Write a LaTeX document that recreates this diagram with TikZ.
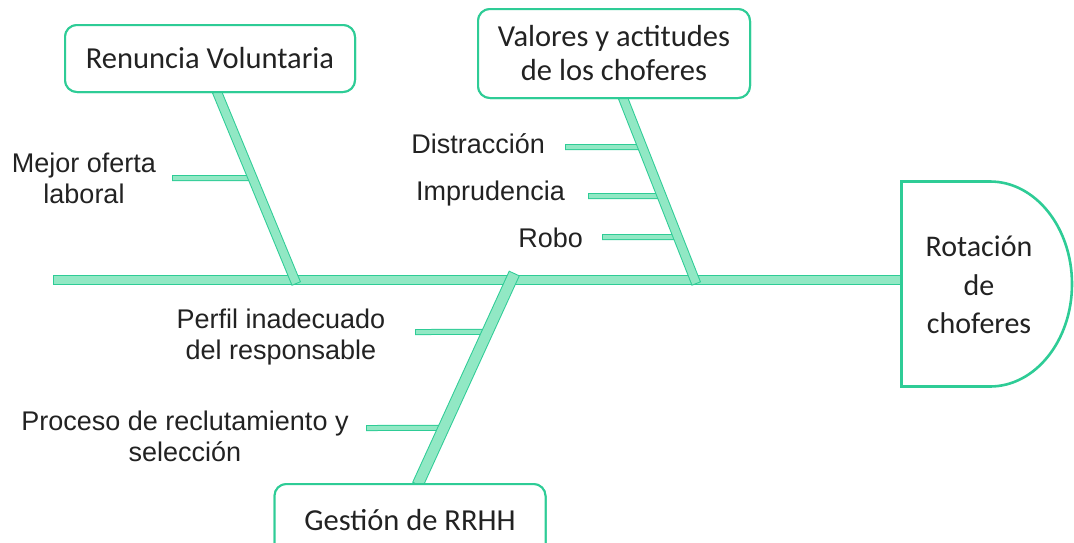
\documentclass[tikz,border=0pt]{standalone}
\usepackage{fontspec}
\setmainfont{Liberation Sans}
\newfontfamily\boxfont{Carlito}
\usetikzlibrary{calc}
\definecolor{bonedark}{RGB}{46,204,150}
\definecolor{bonelight}{RGB}{145,232,196}
\definecolor{txt}{RGB}{34,34,34}
\tikzset{
  catbox/.style={draw=bonedark, line width=2pt, rounded corners=12pt, fill=white,
    font=\boxfont\fontsize{30.5}{34}\selectfont, text=txt, align=center, inner sep=0pt},
  lbl/.style={font=\fontsize{27}{31}\selectfont, text=txt, align=center, inner sep=0pt},
  bigbar/.style={bonelight, line width=8pt,
    preaction={draw=bonedark, line width=10pt, shorten <=-1pt, shorten >=-1pt}},
  widebar/.style={bonelight, line width=10pt,
    preaction={draw=bonedark, line width=12pt, shorten <=-1pt, shorten >=-1pt}},
  smallbar/.style={bonelight, line width=4pt,
    preaction={draw=bonedark, line width=6pt, shorten <=-1pt, shorten >=-1pt}},
  headshape/.style={draw=bonedark, line width=2.6pt, fill=white}
}
\begin{document}
\begin{tikzpicture}[x=1pt,y=-1pt]
\useasboundingbox (0,0) rectangle (1074,542);
% head
\draw[headshape] (901.5,181.5) -- (990,181.5)
  arc[start angle=90, end angle=-90, x radius=82pt, y radius=102.5pt]
  -- (901.5,386.5) -- cycle;
\node[font=\boxfont\fontsize{30}{38.5}\selectfont, text=txt, align=center] (h) at (979,285) {Rotación\\de\\choferes};
% spine
\coordinate (spl) at (54,280);
\coordinate (spr) at (900,280);
\draw[bigbar] (spl) -- (spr);
% boxes
\node[catbox, minimum width=290pt, minimum height=67pt] (r) at (210,58.5) {Renuncia Voluntaria};
\node[catbox, minimum width=272pt, minimum height=89pt] (v) at (614,53.5) {Valores y actitudes\\de los choferes};
\node[catbox, minimum width=271pt, minimum height=72pt] (g) at (410,520) {Gestión de RRHH};
% bone coordinates
\coordinate (b1s) at (217,92);
\coordinate (b1e) at (296,283);
\coordinate (b2s) at (623,98);
\coordinate (b2e) at (696,283);
\coordinate (b3s) at (514,274);
\coordinate (b3e) at (418,484);
% sub-bone coordinates
\coordinate (s1) at (173,178);
\coordinate (j1) at ($(b1s)!0.4503!(b1e)$);
\coordinate (s2) at (566,147);
\coordinate (j2) at ($(b2s)!0.2649!(b2e)$);
\coordinate (s3) at (589,196);
\coordinate (j3) at ($(b2s)!0.5297!(b2e)$);
\coordinate (s4) at (603,237);
\coordinate (j4) at ($(b2s)!0.7514!(b2e)$);
\coordinate (s5) at (416,332);
\coordinate (j5) at ($(b3s)!0.276!(b3e)$);
\coordinate (s6) at (367,428);
\coordinate (j6) at ($(b3s)!0.733!(b3e)$);
% sub-bones
\draw[smallbar] (s1) -- (j1);
\draw[smallbar] (s2) -- (j2);
\draw[smallbar] (s3) -- (j3);
\draw[smallbar] (s4) -- (j4);
\draw[smallbar] (s5) -- (j5);
\draw[smallbar] (s6) -- (j6);
% bones
\draw[bigbar] (b1s) -- (b1e);
\draw[bigbar] (b2s) -- (b2e);
\draw[widebar] (b3s) -- (b3e);
% redraw boxes on top
\node[catbox, minimum width=290pt, minimum height=67pt] at (r) {Renuncia Voluntaria};
\node[catbox, minimum width=272pt, minimum height=89pt] at (v) {Valores y actitudes\\de los choferes};
\node[catbox, minimum width=271pt, minimum height=72pt] at (g) {Gestión de RRHH};
% labels
\node[lbl] (l1) at (84,178) {Mejor oferta\\laboral};
\node[lbl, anchor=east] (l2) at (545,144) {Distracción};
\node[lbl, anchor=east] (l3) at (565,194) {Imprudencia};
\node[lbl, anchor=east] (l4) at (583,238) {Robo};
\node[lbl] (l5) at (281,337) {Perfil inadecuado\\del responsable};
\node[lbl] (l6) at (185,436) {Proceso de reclutamiento y\\selección};
\end{tikzpicture}
\end{document}
